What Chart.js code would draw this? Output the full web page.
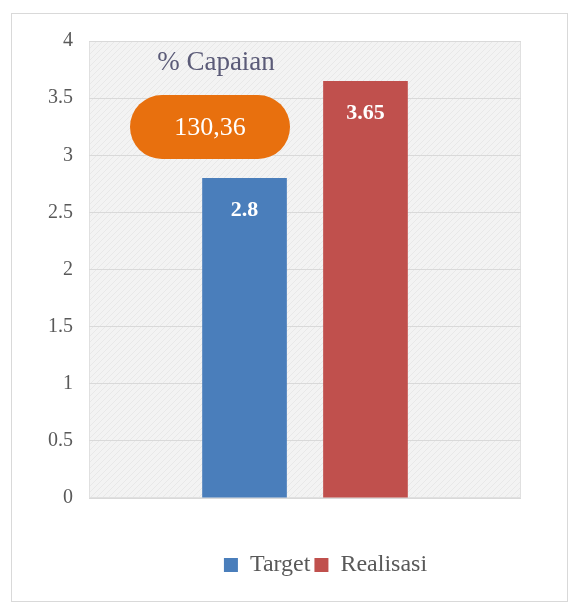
<!DOCTYPE html>
<html>
<head>
<meta charset="utf-8">
<script src="https://cdn.jsdelivr.net/npm/chart.js@4.4.0/dist/chart.umd.min.js"></script>
<style>
    body { margin: 0; background: #fff; }
    #wrap { width: 578px; height: 606px; }
</style>
</head>
<body>
<div id="wrap"><canvas id="myChart" width="578" height="606"></canvas></div>
<script>
const categories = [''];
const targetValues = [2.8];
const realisasiValues = [3.65];
const yTicks = [0, 0.5, 1, 1.5, 2, 2.5, 3, 3.5, 4];
const capaianTitle = '% Capaian';
const capaianValue = '130,36';

const serif = "'Liberation Serif', 'Times New Roman', serif";

function makeHatch() {
    const c = document.createElement('canvas');
    c.width = 6; c.height = 6;
    const g = c.getContext('2d');
    g.fillStyle = '#f3f3f3';
    g.fillRect(0, 0, 6, 6);
    g.strokeStyle = '#e8e8e8';
    g.lineWidth = 1;
    g.beginPath();
    g.moveTo(0, 6); g.lineTo(6, 0);
    g.moveTo(-1, 1); g.lineTo(1, -1);
    g.moveTo(5, 7); g.lineTo(7, 5);
    g.stroke();
    return g.createPattern(c, 'repeat');
}

// background frame + hatched plot area
const backdrop = {
    id: 'backdrop',
    afterLayout(chart) {
        // legend sits a bit right of centre in the original
        chart.legend.left += 65;
        chart.legend.right += 65;
    },
    beforeDraw(chart) {
        const ctx = chart.ctx;
        const a = chart.chartArea;
        ctx.save();
        ctx.strokeStyle = '#d9d9d9';
        ctx.lineWidth = 1;
        ctx.strokeRect(11.5, 13.5, 556, 588);
        ctx.fillStyle = makeHatch();
        ctx.fillRect(a.left, a.top, a.right - a.left, a.bottom - a.top);
        ctx.strokeStyle = '#e0e0e0';
        ctx.strokeRect(a.left + 0.5, a.top + 0.5, a.right - a.left - 1, a.bottom - a.top - 1);
        ctx.restore();
    }
};

// value labels inside bar tops + capaian bubble
const labelsPlugin = {
    id: 'labelsPlugin',
    afterDatasetsDraw(chart) {
        const ctx = chart.ctx;
        ctx.save();
        ctx.fillStyle = '#ffffff';
        ctx.font = 'bold 22px ' + serif;
        ctx.textAlign = 'center';
        ctx.textBaseline = 'middle';
        chart.data.datasets.forEach((ds, i) => {
            chart.getDatasetMeta(i).data.forEach((bar, j) => {
                ctx.fillText(String(ds.data[j]), bar.x, bar.y + 32);
            });
        });

        const a = chart.chartArea;
        const cx = a.left + 121, cy = a.top + 86;
        const w = 160, h = 64, r = 32;
        ctx.fillStyle = '#e8700e';
        ctx.beginPath();
        ctx.roundRect(cx - w / 2, cy - h / 2, w, h, r);
        ctx.fill();
        ctx.fillStyle = '#ffffff';
        ctx.font = '26px ' + serif;
        ctx.fillText(capaianValue, cx, cy + 1);

        ctx.fillStyle = '#5b5b78';
        ctx.font = '27px ' + serif;
        ctx.fillText(capaianTitle, cx + 6, a.top + 22);
        ctx.restore();
    }
};

const ctx = document.getElementById('myChart').getContext('2d');
window.myChart = new Chart(ctx, {
    type: 'bar',
    data: {
        labels: categories,
        datasets: [{
            label: 'Target',
            data: targetValues,
            backgroundColor: '#4a7ebb',
            categoryPercentage: 0.56,
            barPercentage: 0.70
        }, {
            label: 'Realisasi',
            data: realisasiValues,
            backgroundColor: '#c0504d',
            categoryPercentage: 0.56,
            barPercentage: 0.70
        }]
    },
    options: {
        responsive: false,
        animation: false,
        layout: {
            padding: { top: 41, right: 57, bottom: 19, left: 0 }
        },
        plugins: {
            tooltip: { enabled: false },
            legend: {
                position: 'bottom',
                labels: {
                    boxWidth: 14,
                    boxHeight: 14,
                    padding: 4,
                    color: '#595959',
                    font: { family: serif, size: 24 }
                }
            }
        },
        scales: {
            x: {
                grid: { display: false },
                border: { display: false },
                ticks: { display: false },
                afterFit: s => { s.height = 51; }
            },
            y: {
                min: 0,
                max: 4,
                afterFit: s => { s.width = 89; },
                afterBuildTicks: s => { s.ticks = yTicks.map(v => ({ value: v })); },
                grid: { color: '#d9d9d9', drawTicks: false },
                border: { display: false },
                ticks: {
                    padding: 16,
                    color: '#595959',
                    font: { family: serif, size: 20 },
                    callback: v => String(v)
                }
            }
        }
    },
    plugins: [backdrop, labelsPlugin]
});
</script>
</body>
</html>
